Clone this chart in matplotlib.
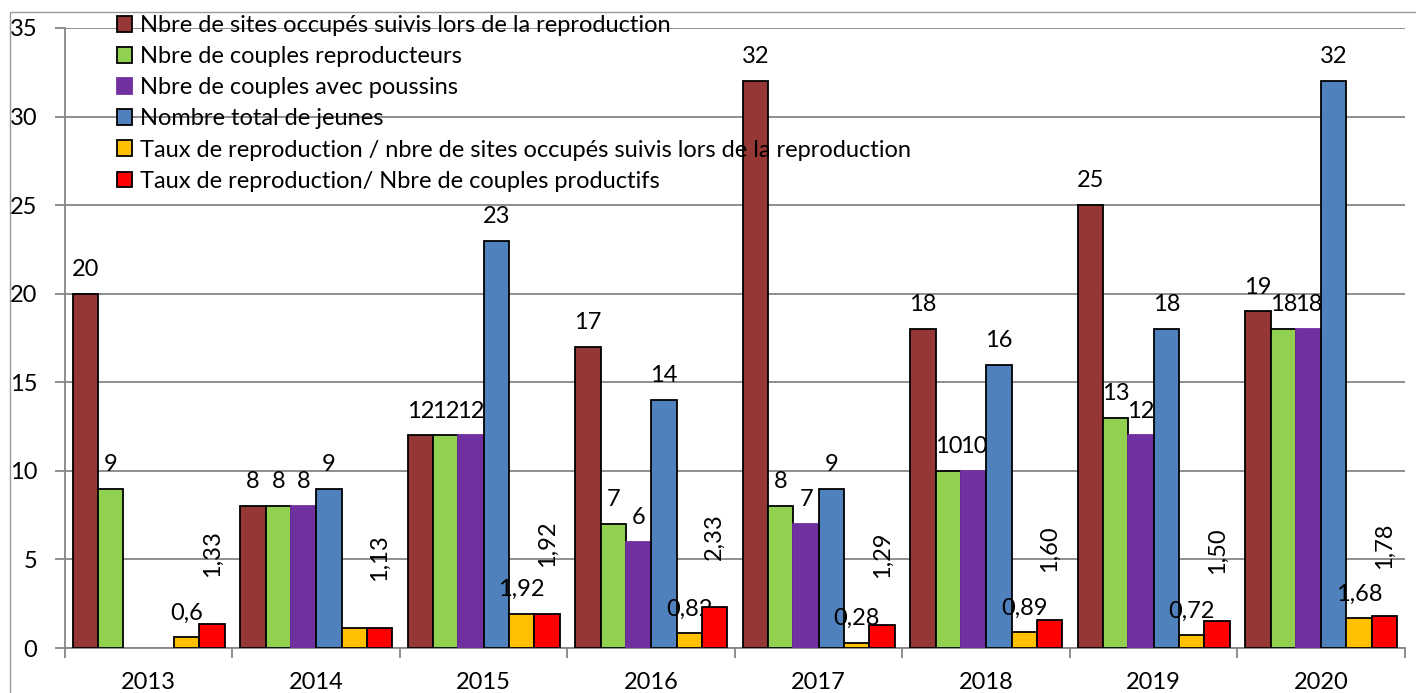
import numpy as np
import matplotlib.pyplot as plt
from matplotlib.patches import Rectangle

years = ['2013', '2014', '2015', '2016', '2017', '2018', '2019', '2020']
series_names = [
    'Nbre de sites occupés suivis lors de la reproduction',
    'Nbre de couples reproducteurs',
    'Nbre de couples avec poussins',
    'Nombre total de jeunes',
    'Taux de reproduction / nbre de sites occupés suivis lors de la reproduction',
    'Taux de reproduction/ Nbre de couples productifs',
]
sites = [20, 8, 12, 17, 32, 18, 25, 19]
couples = [9, 8, 12, 7, 8, 10, 13, 18]
poussins = [np.nan, 8, 12, 6, 7, 10, 12, 18]
jeunes = [np.nan, 9, 23, 14, 9, 16, 18, 32]
taux_sites = [0.6, 1.13, 1.92, 0.82, 0.28, 0.89, 0.72, 1.68]
taux_couples = [1.33, 1.13, 1.92, 2.33, 1.29, 1.60, 1.50, 1.78]
# labels as printed on the chart (french decimal comma)
taux_sites_lbl = ['0,6', '', '1,92', '0,82', '0,28', '0,89', '0,72', '1,68']
taux_couples_lbl = ['1,33', '1,13', '1,92', '2,33', '1,29', '1,60', '1,50', '1,78']

colors = ['#953735', '#92D050', '#7030A0', '#4F81BD', '#FFC000', '#FF0000']
edges = ['black', 'black', '#7030A0', 'black', 'black', 'black']

plt.rcParams['font.family'] = ['Lato', 'DejaVu Sans']
fs = 17

fig = plt.figure(figsize=(14.16, 6.93), dpi=100)
ax = fig.add_axes([0.0459, 0.0649, 0.9463, 0.8947])

x = np.arange(len(years))
w = 0.151
data = [sites, couples, poussins, jeunes, taux_sites, taux_couples]
for i, vals in enumerate(data):
    pos = x + (i - 2.5) * w
    ax.bar(pos, vals, w, color=colors[i], edgecolor=edges[i], linewidth=1.3,
           label=series_names[i], zorder=3)
    for j, v in enumerate(vals):
        if np.isnan(v):
            continue
        if i < 4:
            ax.annotate(str(int(v)), (pos[j], v), xytext=(0, 10), textcoords='offset points',
                        ha='center', va='bottom', fontsize=fs)
        elif i == 4:
            ax.annotate(taux_sites_lbl[j], (pos[j], v), xytext=(0, 10), textcoords='offset points',
                        ha='center', va='bottom', fontsize=fs)
        else:
            ax.annotate(taux_couples_lbl[j], (pos[j], v), xytext=(0, 34), textcoords='offset points',
                        ha='center', va='bottom', rotation=90, fontsize=fs)

ax.set_xlim(-0.5, 7.5)
ax.set_ylim(0, 35)
ax.set_yticks(range(0, 36, 5))
ax.set_xticks(x)
ax.set_xticklabels(years, fontsize=fs)
ax.set_xticks(np.arange(-0.5, 8, 1), minor=True)
ax.tick_params(axis='x', which='major', length=0, pad=17)
ax.tick_params(axis='x', which='minor', length=7, color='#868686', width=1.3)
ax.tick_params(axis='y', length=7, color='#868686', width=1.3, labelsize=fs, pad=13)
ax.grid(axis='y', color='#868686', linewidth=1.3, zorder=0)
for s in ['top', 'right']:
    ax.spines[s].set_visible(False)
for s in ['left', 'bottom']:
    ax.spines[s].set_color('#868686')
    ax.spines[s].set_linewidth(1.3)

ax.legend(loc='upper left', bbox_to_anchor=(0.0388, 1.021), frameon=False, fontsize=fs,
          handlelength=0.65, handleheight=0.65, handletextpad=0.34, labelspacing=0.43,
          borderpad=0, borderaxespad=0)

fig.patches.append(Rectangle((10 / 1416, -0.1), 2, 1.1 - 12 / 693, transform=fig.transFigure,
                             fill=False, edgecolor='#9a9a9a', linewidth=1))

plt.savefig('out.png', dpi=100)
